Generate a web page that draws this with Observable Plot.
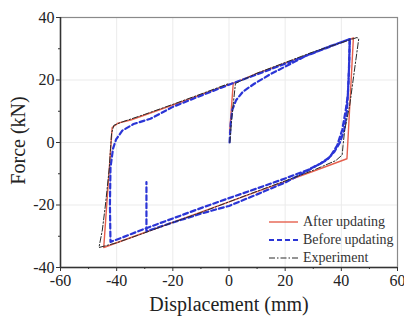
<!DOCTYPE html>
<html>
<head>
<meta charset="utf-8">
<script src="https://cdn.jsdelivr.net/npm/d3@7"></script>
<script src="https://cdn.jsdelivr.net/npm/@observablehq/plot@0.6"></script>
<style>
  html, body { margin: 0; padding: 0; background: #fff; }
  #wrap { position: relative; width: 404px; height: 320px; font-family: "Liberation Serif", "DejaVu Serif", serif; }
  #legend { position: absolute; left: 268px; top: 213px; font-size: 14px; color: #333; line-height: 18px; }
  #legend .row { display: flex; align-items: center; height: 18px; }
  #legend svg { margin-right: 4px; }
</style>
</head>
<body>
<div id="wrap"><div id="chart"></div>
  <div id="legend"></div>
</div>
<script>
// ---- data ----
const xTicks = [-60, -40, -20, 0, 20, 40, 60];
const yTicks = [-40, -20, 0, 20, 40];
const xMinor = [-50, -30, -10, 10, 30, 50];
const yMinor = [-30, -10, 10, 30];

const seriesNames = ["After updating", "Before updating", "Experiment"];

// After updating (red solid)
const afterX = [0.2, 1.5, 10, 20, 30, 44.3, 42.0, 30, 10, -10, -30, -44.6, -41.6, -39.5, -35, -20, 0, 1.5];
const afterY = [3.0, 18.9, 22.1, 25.4, 28.7, 33.5, -5.2, -9.2, -15.7, -22.3, -28.8, -33.6, 4.8, 6.2, 7.2, 12.0, 18.6, 19.1];

// Before updating (blue dashed), two pieces
const beforeX1 = [0.2, 0.6, 1.2, 2.5, 5, 9, 15, 22, 28, 35, 43, 42.8, 42.3, 41.5, 40.3, 38.5, 36, 32.5, 28, 20, 10, 0, -10, -20, -30, -38, -42.2, -42.4, -42.2, -41.3, -40.2, -38, -34, -28, -20, -10, 0, 10, 20, 30, 43];
const beforeY1 = [0, 6, 10.5, 13.5, 16.3, 18.8, 22, 25.2, 28, 30.5, 33.1, 25, 15, 10, 4, -1, -4.6, -6.8, -8.8, -11.5, -14.7, -17.8, -21, -24.3, -27.6, -30.4, -31.8, -20, -8, -2, 1, 3.8, 5.9, 7.6, 11.4, 15, 18.5, 21.8, 25.2, 28.6, 33.1];
const beforeX2 = [43, 42.6, 42, 41, 39.5, 37.5, 35, 30, 27, 20, 10, 0, -5, -10, -20, -29.4, -29.4, -29.4];
const beforeY2 = [33.1, 20, 10, 4, 0, -3, -5.5, -8, -9.5, -12.8, -16.6, -20.3, -21.5, -22.8, -25.6, -28.4, -20, -12.7];

// Experiment (black dash-dot)
const expX = [0.3, 1, 2.3, 10, 20, 30, 45.6, 46.2, 44.5, 43, 41.2, 40.6, 40.3, 38, 30, 20, 10, 0, -10, -20, -30, -40, -46.3, -45.1, -44, -42.6, -42.2, -41.8, -41, -38, -30, -20, -10, 0];
const expY = [0, 8, 18.9, 22.2, 25.6, 29, 33.6, 33.2, 22, 12, 4, -1, -4, -5.8, -8.9, -12.3, -15.6, -19, -22.4, -25.6, -28.9, -32.1, -33.6, -28, -20, -8, -2, 3, 5.5, 6.6, 9, 12.2, 15.5, 18.9];

// ---- tables ----
const zip = (xs, ys, extra = {}) => xs.map((x, i) => ({x, y: ys[i], ...extra}));
const afterRows = zip(afterX, afterY);
const beforeRows = [...zip(beforeX1, beforeY1, {seg: 1}), ...zip(beforeX2, beforeY2, {seg: 2})];
const expRows = zip(expX, expY);

const colors = {after: "#e5604e", before: "#2b35d6", exp: "#2a2a2a"};
const fmt = d => `${d}`;

const chart = Plot.plot({
  width: 404,
  height: 320,
  marginLeft: 60,
  marginRight: 7,
  marginTop: 17,
  marginBottom: 53,
  style: {fontFamily: "'Liberation Serif', 'DejaVu Serif', serif", fontSize: "16px", color: "#222", background: "#fff"},
  x: {domain: [-60, 60]},
  y: {domain: [-40, 40]},
  marks: [
    Plot.gridX(xTicks, {stroke: "#ebebeb", strokeOpacity: 1}),
    Plot.gridY(yTicks, {stroke: "#ebebeb", strokeOpacity: 1}),
    Plot.frame({stroke: "#8a8a8a", strokeWidth: 1.2}),
    Plot.line(afterRows, {x: "x", y: "y", stroke: colors.after, strokeWidth: 1.4}),
    Plot.line(beforeRows, {x: "x", y: "y", z: "seg", stroke: colors.before, strokeWidth: 2.2, strokeDasharray: "5,3"}),
    Plot.line(expRows, {x: "x", y: "y", stroke: colors.exp, strokeWidth: 1, strokeDasharray: "6,2,1.5,2"}),
    Plot.ruleX([-60], {stroke: "#333", strokeWidth: 1.5}),
    Plot.ruleY([-40], {stroke: "#333", strokeWidth: 1.5}),
    Plot.axisX(xTicks, {tickSize: 4, tickPadding: 3, tickFormat: fmt, label: null, stroke: "#333", fontSize: 16}),
    Plot.axisX(xMinor, {tickSize: 2, text: null, label: null, stroke: "#333"}),
    Plot.axisY(yTicks, {tickSize: 4, tickPadding: 2, tickFormat: fmt, label: null, stroke: "#333", fontSize: 16}),
    Plot.axisY(yMinor, {tickSize: 2, text: null, label: null, stroke: "#333"}),
    Plot.text(["Displacement (mm)"], {frameAnchor: "bottom", dy: 37, lineAnchor: "middle", fontSize: 20, fill: "#222"}),
    Plot.text(["Force (kN)"], {frameAnchor: "left", dx: -42, dy: -2, rotate: -90, lineAnchor: "middle", textAnchor: "middle", fontSize: 20, fill: "#222"})
  ]
});
document.getElementById("chart").appendChild(chart);

// ---- legend (inside plot, bottom right) ----
const legendStyles = [
  {stroke: colors.after, width: 1.4, dash: null},
  {stroke: colors.before, width: 2.2, dash: "5,3"},
  {stroke: colors.exp, width: 1, dash: "6,2,1.5,2"}
];
const legend = document.getElementById("legend");
seriesNames.forEach((name, i) => {
  const s = legendStyles[i];
  const row = document.createElement("div");
  row.className = "row";
  row.innerHTML = `<svg width="31" height="10"><line x1="1" x2="30" y1="5" y2="5" stroke="${s.stroke}" stroke-width="${s.width}" ${s.dash ? `stroke-dasharray="${s.dash}"` : ""}/></svg><span>${name}</span>`;
  legend.appendChild(row);
});
</script>
</body>
</html>
